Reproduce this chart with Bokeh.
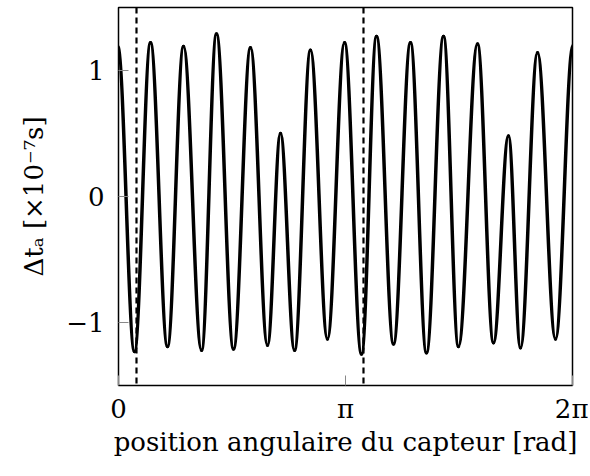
import numpy as np
from bokeh.plotting import figure
from bokeh.models import Span, Range1d, FixedTicker
from bokeh.embed import file_html
from bokeh.resources import INLINE

# extremes of the measured curve (angle in rad, delta t in 1e-7 s)
ext_x = [-0.01, 0.221, 0.443, 0.678, 0.900, 1.149, 1.356, 1.592, 1.827, 2.062,
         2.242, 2.436, 2.657, 2.892, 3.128, 3.363, 3.571, 3.806, 4.041, 4.262,
         4.498, 4.705, 4.968, 5.190, 5.397, 5.563, 5.799, 6.048, 6.29]
ext_y = [1.19, -1.23, 1.22, -1.19, 1.19, -1.22, 1.29, -1.21, 1.18, -1.18,
         0.50, -1.22, 1.16, -1.13, 1.22, -1.25, 1.27, -1.17, 1.22, -1.24,
         1.27, -1.19, 1.21, -1.16, 0.48, -1.20, 1.14, -1.13, 1.20]
dashed_x = [0.249, np.pi + 0.249]
x_ticks = [0, np.pi, 2 * np.pi]
x_tick_labels = ["0", "π", "2π"]
y_ticks = [-1, 0, 1]
y_tick_labels = ["−1", "0", "1"]

FONT = "DejaVu Serif"

p = figure(width=588, height=474, output_backend="svg", toolbar_location=None,
           x_range=Range1d(0, 2 * np.pi), y_range=Range1d(-1.5, 1.5),
           min_border_left=118, min_border_right=16, min_border_top=7,
           min_border_bottom=89)
p.grid.visible = False
p.outline_line_color = "black"
p.outline_line_width = 1.5
p.background_fill_color = "white"
p.border_fill_color = "white"

for s in dashed_x:
    p.add_layout(Span(location=s, dimension="height", line_color="black",
                      line_width=2.2, line_dash="6 4"))

x0 = np.array(ext_x[:-1]); x1 = np.array(ext_x[1:])
y0 = np.array(ext_y[:-1]); y1 = np.array(ext_y[1:])
a = 0.3634
dx = x1 - x0
p.bezier(x0=x0, y0=y0, x1=x1, y1=y1, cx0=x0 + a * dx, cy0=y0,
         cx1=x1 - a * dx, cy1=y1, line_color="black", line_width=3.5,
         line_cap="round", line_join="round")

for ax, ticks, labels in ((p.xaxis, x_ticks, x_tick_labels), (p.yaxis, y_ticks, y_tick_labels)):
    ax.ticker = FixedTicker(ticks=ticks)
    ax.major_label_overrides = {t: l for t, l in zip(ticks, labels)}
    ax.major_tick_in = 10
    ax.major_tick_out = 0
    ax.major_tick_line_color = "#888888"
    ax.major_tick_line_width = 1
    ax.minor_tick_line_color = None
    ax.axis_line_color = None
    ax.major_label_text_font = FONT
    ax.major_label_text_font_size = "26px"
    ax.major_label_text_color = "black"
    ax.axis_label_text_font = FONT
    ax.axis_label_text_font_size = "26px"
    ax.axis_label_text_font_style = "normal"
    ax.axis_label_text_color = "black"

p.xaxis.axis_label = "position angulaire du capteur [rad]"
p.yaxis.axis_label = "Δtₐ [×10⁻⁷s]"
p.xaxis.major_label_standoff = 8
p.yaxis.major_label_standoff = 14
p.xaxis.axis_label_standoff = 0
p.yaxis.axis_label_standoff = 14

open("out.html", "w").write(file_html(p, INLINE))
